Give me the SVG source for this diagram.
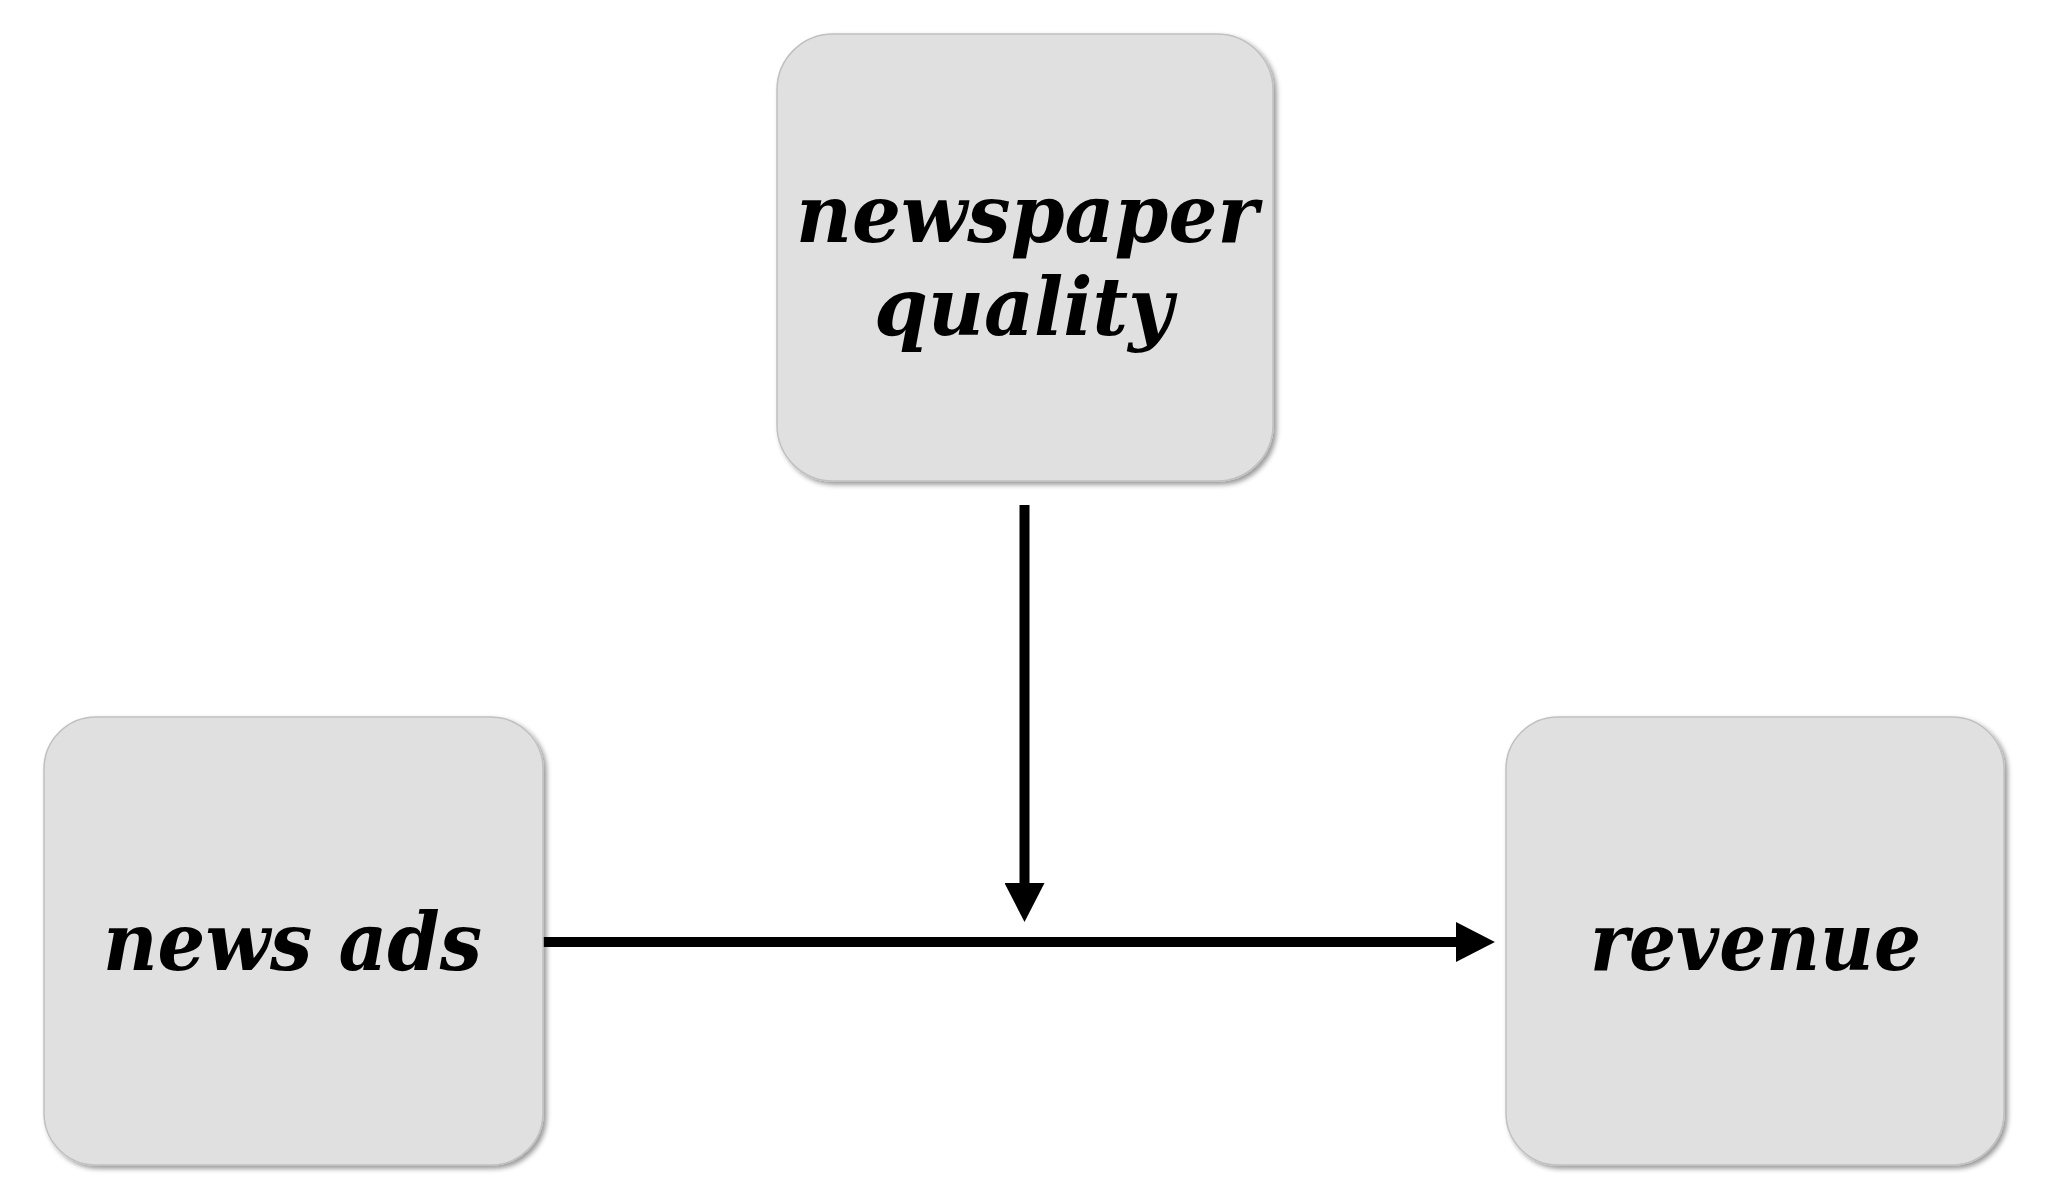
<svg xmlns="http://www.w3.org/2000/svg" width="2049" height="1200" viewBox="0 0 2049 1200">
<style>
.box{fill:#e0e0e0;stroke:#c0c0c0;stroke-width:1.5;filter:url(#sh)}
.lbl{font-family:"DejaVu Serif",serif;font-weight:bold;font-style:italic;font-size:80px;fill:#000;text-anchor:middle}
.edge{stroke:#000;stroke-width:10;fill:none}
</style>
<defs>
<filter id="sh" x="-10%" y="-10%" width="130%" height="130%">
<feDropShadow dx="3" dy="3" stdDeviation="2.5" flood-color="#000" flood-opacity="0.4"/>
</filter>
<marker id="ah" markerUnits="userSpaceOnUse" markerWidth="40" markerHeight="40" viewBox="0 0 37 38" refX="0" refY="19" orient="auto">
<path d="M0,0 L37,19 L0,38 Z" fill="#000"/>
</marker>
</defs>
<rect width="2049" height="1200" fill="#fff"/>
<g id="connectors">
<line class="edge" x1="543" y1="942" x2="1456" y2="942" marker-end="url(#ah)"/>
<line class="edge" x1="1024.5" y1="505" x2="1024.5" y2="883" marker-end="url(#ah)"/>
</g>
<g id="node-newspaper-quality">
<rect class="box" x="777" y="34" width="496" height="447" rx="56" ry="56"/>
<text class="lbl" x="1027" y="242" textLength="462" lengthAdjust="spacingAndGlyphs">newspaper</text>
<text class="lbl" x="1023.5" y="335" textLength="299" lengthAdjust="spacingAndGlyphs">quality</text>
</g>
<g id="node-news-ads">
<rect class="box" x="44" y="717" width="499" height="448" rx="52" ry="52"/>
<text class="lbl" x="292.5" y="970" textLength="379" lengthAdjust="spacingAndGlyphs">news ads</text>
</g>
<g id="node-revenue">
<rect class="box" x="1506" y="717" width="498" height="448" rx="52" ry="52"/>
<text class="lbl" x="1755.5" y="970" textLength="331" lengthAdjust="spacingAndGlyphs">revenue</text>
</g>
</svg>
